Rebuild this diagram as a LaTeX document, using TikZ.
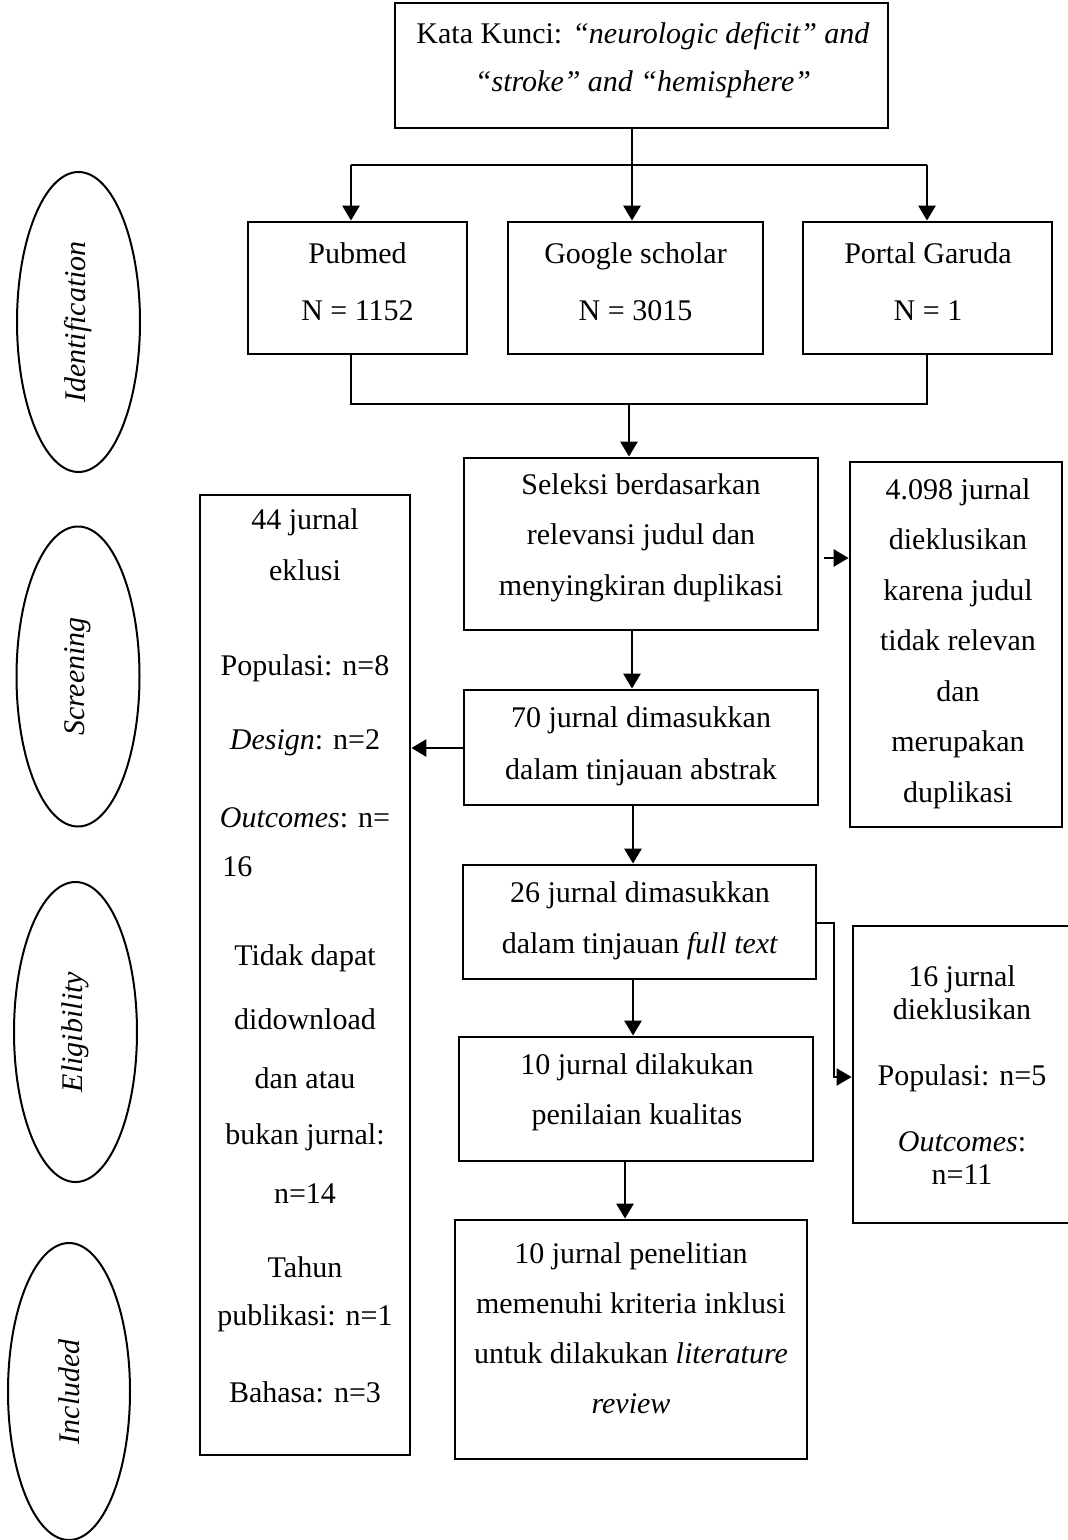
\documentclass[tikz,border=0pt]{standalone}
\usepackage{fontspec}
\setmainfont{Liberation Serif}
\usetikzlibrary{shapes.geometric,arrows.meta}
\newcommand\myfs[1]{\fontsize{15pt}{#1}\selectfont}
\begin{document}
\begin{tikzpicture}[x=0.5pt,y=-0.5pt,
  box/.style={draw, line width=1.4pt, inner sep=0pt},
  txt/.style={align=center, inner sep=0pt},
  phase/.style={draw, ellipse, line width=1pt, inner sep=0pt, font=\myfs{18pt}},
  conn/.style={line width=1.4pt},
  arr/.style={line width=1.4pt, -{Triangle[length=7.5pt,width=8.5pt]}},
  thinline/.style={line width=0.7pt}]
\useasboundingbox (0,0) rectangle (1067,1540);

% phase ellipses
\node[phase, minimum width=61.5pt, minimum height=150pt] (idf) at (78.5,322) {\rotatebox{90}{\textit{Identification}}};
\node[phase, minimum width=61.5pt, minimum height=150pt] (scr) at (78,676.5) {\rotatebox{90}{\textit{Screening}}};
\node[phase, minimum width=61.5pt, minimum height=150pt] (eli) at (75.5,1032) {\rotatebox{90}{\textit{Eligibility}}};
\node[phase, minimum width=61pt, minimum height=148.5pt] (inc) at (69,1391.5) {\rotatebox{90}{\textit{Included}}};

% boxes
\node[box, minimum width=246.5pt, minimum height=62.5pt] (top) at (641.5,65.5) {};
\node[box, minimum width=109.5pt, minimum height=66pt] (pub) at (357.5,288) {};
\node[box, minimum width=127.5pt, minimum height=66pt] (goo) at (635.5,288) {};
\node[box, minimum width=124.5pt, minimum height=66pt] (por) at (927.5,288) {};
\node[box, minimum width=177pt, minimum height=86pt] (sel) at (641,544) {};
\node[box, minimum width=106pt, minimum height=182.5pt] (exc) at (956,644.5) {};
\node[box, minimum width=177pt, minimum height=57.5pt] (abs) at (641,747.5) {};
\node[box, minimum width=105pt, minimum height=480pt] (ex44) at (305,975) {};
\node[box, minimum width=176.5pt, minimum height=57pt] (full) at (639.5,922) {};
\node[box, minimum width=108.5pt, minimum height=148.5pt] (ex16) at (961.5,1074.5) {};
\node[box, minimum width=177pt, minimum height=62pt] (qual) at (636,1099) {};
\node[box, minimum width=176pt, minimum height=119.5pt] (fin) at (631,1339.5) {};

% texts
\node[txt, font=\myfs{24pt}] (topT) at (643,60) {Kata Kunci: \textit{“neurologic deficit” and}\\\textit{“stroke” and “hemisphere”}};
\node[txt, font=\myfs{28.5pt}] (pubT) at (357.5,281.5) {Pubmed\\N = 1152};
\node[txt, font=\myfs{28.5pt}] (gooT) at (635.5,281.5) {Google scholar\\N = 3015};
\node[txt, font=\myfs{28.5pt}] (porT) at (928,281.5) {Portal Garuda\\N = 1};
\node[txt, font=\myfs{25.25pt}] (selT) at (641,537.5) {Seleksi berdasarkan\\relevansi judul dan\\menyingkiran duplikasi};
\node[txt, font=\myfs{25.25pt}] (excT) at (958,643.5) {4.098 jurnal\\dieklusikan\\karena judul\\tidak relevan\\dan\\merupakan\\duplikasi};
\node[txt, font=\myfs{26pt}] (absT) at (641,746) {70 jurnal dimasukkan\\dalam tinjauan abstrak};
\node[txt, font=\myfs{25.5pt}] (fullT) at (640,920.5) {26 jurnal dimasukkan\\dalam tinjauan \textit{full text}};
\node[txt, font=\myfs{25pt}] (qualT) at (637,1092) {10 jurnal dilakukan\\penilaian kualitas};
\node[txt, font=\myfs{25pt}] (finT) at (631,1328) {10 jurnal penelitian\\memenuhi kriteria inklusi\\untuk dilakukan \textit{literature}\\\textit{review}};
\node[txt, font=\myfs{16.5pt}] (ex16T) at (962,1075) {16 jurnal\\dieklusikan\\[16.5pt]Populasi: n=5\\[16.5pt]\textit{Outcomes}:\\n=11};

\foreach \yy/\tt [count=\i] in {522/44 jurnal, 570/eklusi, 668/Populasi: n=8, 743/\textit{Design}: n=2, 818/\textit{Outcomes}: n=, 958/Tidak dapat, 1019/didownload, 1078/dan atau, 1137/bukan jurnal:, 1194/n=14, 1267/Tahun, 1318/publikasi: n=1, 1392/Bahasa: n=3}
  {\node[txt, font=\myfs{18pt}] (ex44L\i) at (305,\yy) {\tt};}
\node[txt, font=\myfs{18pt}, anchor=west] (ex44Lx) at (222,867) {16};

% connectors
\coordinate (jc) at (632,165);
\coordinate (jl) at (351,165);
\coordinate (jr) at (927,165);
\draw[conn] (top.south -| jc) -- (jc);
\draw[conn] (jl) -- (jr);
\draw[arr] (jl) -- (jl |- pub.north);
\draw[arr] (jc) -- (jc |- goo.north);
\draw[arr] (jr) -- (jr |- por.north);

\coordinate (ml) at (351,404);
\coordinate (mr) at (927,404);
\coordinate (mc) at (629,404);
\draw[thinline] (ml |- pub.south) -- (ml) -- (mr) -- (mr |- por.south);
\draw[arr] (mc) -- (mc |- sel.north);

\coordinate (s1) at (824,558);
\draw[arr] (s1) -- (s1 -| exc.west);

\coordinate (a1) at (632,0);
\draw[arr] (a1 |- sel.south) -- (a1 |- abs.north);
\coordinate (a2) at (0,748);
\draw[arr] (a2 -| abs.west) -- (a2 -| ex44.east);
\coordinate (a3) at (633,0);
\draw[arr] (a3 |- abs.south) -- (a3 |- full.north);
\coordinate (f1) at (834,923);
\coordinate (f2) at (834,1077);
\draw[arr, line width=1.1pt] (f1 -| full.east) -- (f1) -- (f2) -- (f2 -| ex16.west);
\draw[arr] (a3 |- full.south) -- (a3 |- qual.north);
\coordinate (a5) at (625,0);
\draw[arr] (a5 |- qual.south) -- (a5 |- fin.north);
\end{tikzpicture}
\end{document}
